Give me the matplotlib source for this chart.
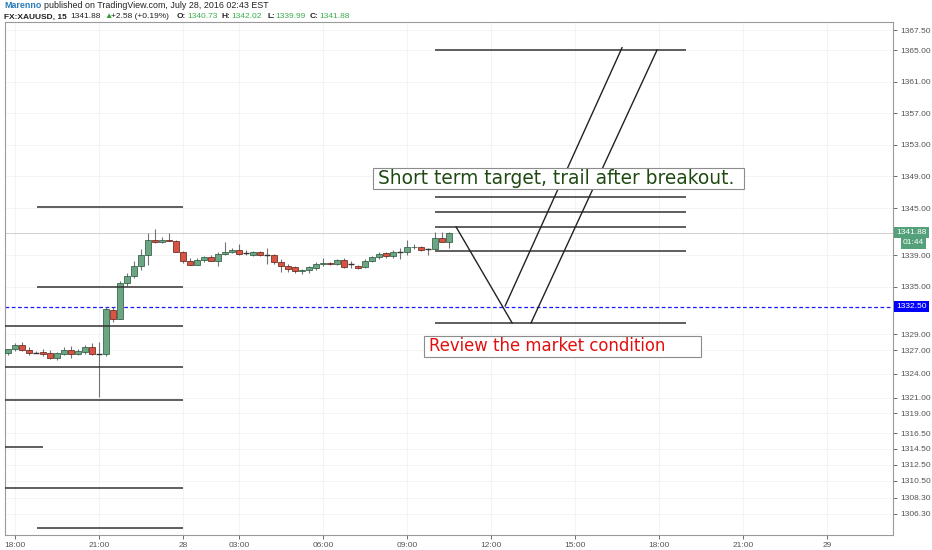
import matplotlib
matplotlib.use("Agg")
import matplotlib.pyplot as plt
import matplotlib.transforms as mtransforms
from matplotlib.patches import Rectangle
import numpy as np

# 15-minute XAUUSD bars (bar index, open/high/low/close)
bar_start = -1
opens = [1326.6, 1327.1, 1327.7, 1327.0, 1326.7, 1326.8, 1326.6, 1325.95, 1326.55, 1327.05,
         1326.55, 1326.75, 1327.4, 1326.55, 1326.55, 1332.15, 1331.0, 1335.5, 1336.4, 1337.6,
         1339.0, 1341.0, 1340.65, 1340.95, 1340.85, 1339.4, 1338.3, 1337.8, 1338.4, 1338.8,
         1338.35, 1339.2, 1339.4, 1339.65, 1339.25, 1339.1, 1339.45, 1339.05, 1339.05, 1338.15,
         1337.7, 1337.5, 1337.05, 1337.15, 1337.4, 1337.85, 1338.05, 1337.9, 1338.45, 1337.85,
         1337.6, 1337.5, 1338.3, 1338.75, 1339.3, 1338.95, 1339.4, 1339.4, 1340.0, 1340.05,
         1339.75, 1339.8, 1341.2, 1340.73]
highs = [1327.2, 1327.9, 1328.0, 1327.35, 1326.9, 1327.1, 1327.05, 1326.8, 1327.4, 1327.5,
         1327.2, 1327.6, 1327.9, 1328.0, 1332.5, 1332.5, 1335.8, 1336.8, 1338.35, 1339.8,
         1341.8, 1342.3, 1341.3, 1341.8, 1341.0, 1339.5, 1338.65, 1338.65, 1338.9, 1339.0,
         1339.4, 1340.7, 1339.9, 1340.4, 1339.7, 1339.6, 1339.6, 1339.9, 1339.2, 1338.5,
         1337.9, 1337.6, 1337.3, 1337.7, 1338.2, 1338.7, 1338.2, 1338.6, 1338.7, 1338.3,
         1337.8, 1338.55, 1338.9, 1339.4, 1339.4, 1339.7, 1339.9, 1341.0, 1340.4, 1340.15,
         1339.9, 1342.0, 1342.0, 1342.02]
lows = [1326.4, 1326.9, 1326.9, 1326.4, 1326.6, 1326.3, 1325.9, 1325.8, 1326.4, 1326.0,
        1326.4, 1326.5, 1326.4, 1321.1, 1326.3, 1330.6, 1331.0, 1335.1, 1336.15, 1337.2,
        1337.8, 1340.55, 1340.6, 1340.8, 1339.4, 1338.1, 1337.75, 1337.75, 1338.2, 1338.3,
        1337.6, 1339.0, 1339.3, 1339.1, 1339.1, 1338.9, 1338.9, 1337.9, 1337.9, 1336.9,
        1336.9, 1336.8, 1336.65, 1336.8, 1337.1, 1337.7, 1337.75, 1337.75, 1337.4, 1337.4,
        1337.3, 1337.35, 1338.2, 1338.6, 1338.7, 1338.7, 1338.55, 1339.1, 1339.8, 1339.6,
        1339.1, 1339.8, 1340.65, 1339.99]
closes = [1327.1, 1327.7, 1327.05, 1326.7, 1326.75, 1326.55, 1325.95, 1326.6, 1327.05, 1326.55,
          1326.95, 1327.4, 1326.55, 1326.6, 1332.2, 1331.0, 1335.5, 1336.4, 1337.6, 1339.0,
          1340.95, 1340.65, 1340.9, 1340.8, 1339.4, 1338.25, 1337.8, 1338.45, 1338.75, 1338.35,
          1339.2, 1339.4, 1339.65, 1339.2, 1339.2, 1339.4, 1339.05, 1339.1, 1338.15, 1337.6,
          1337.3, 1337.05, 1337.15, 1337.5, 1337.9, 1338.05, 1337.85, 1338.45, 1337.55, 1337.8,
          1337.4, 1338.3, 1338.75, 1339.2, 1338.9, 1339.4, 1339.45, 1340.0, 1340.1, 1339.7,
          1339.8, 1341.2, 1340.75, 1341.88]

last_price = 1341.88
alert_price = 1332.50

# axis ticks
x_tick_pos = [0, 12, 24, 32, 44, 56, 68, 80, 92, 104, 116]
x_tick_labels = ["18:00", "21:00", "28", "03:00", "06:00", "09:00", "12:00", "15:00", "18:00", "21:00", "29"]
y_tick_vals = [1367.50, 1365.00, 1361.00, 1357.00, 1353.00, 1349.00, 1345.00, 1339.00, 1335.00,
               1329.00, 1327.00, 1324.00, 1321.00, 1319.00, 1316.50, 1314.50, 1312.50, 1310.50,
               1308.30, 1306.30]

# drawn horizontal levels: (price, x start, x end)
h_levels = [(1345.1, 3.1, 24), (1335.0, 3.1, 24), (1330.1, -1.5, 24), (1324.9, -1.5, 24),
            (1320.7, -1.5, 24), (1314.75, -1.5, 4), (1309.6, -1.5, 24), (1304.5, 3.1, 24),
            (1365.0, 60, 95.9), (1346.4, 60, 95.9), (1344.5, 60, 95.9), (1342.6, 60, 95.9),
            (1339.6, 60, 95.9), (1330.45, 60, 95.9)]
# drawn trend lines: (x0, y0, x1, y1)
trend_lines = [(63, 1342.6, 71, 1330.45), (70, 1332.6, 86.7, 1365.3), (73.7, 1330.45, 91.7, 1365.0)]

# text notes: text, colour, font size, box (x0, x1, y0, y1)
notes = [("Short term target, trail after breakout.", "#1e4a12", 13.4, (51.1, 104.1, 1347.4, 1350.06)),
         ("Review the market condition", "#e01010", 11.9, (58.4, 98.0, 1326.14, 1328.8))]

up_fill, up_edge = "#6ba583", "#225437"
dn_fill, dn_edge = "#d75442", "#5b1a13"
wick_col = "#737375"

fig = plt.figure(figsize=(9.32, 5.5), dpi=100)
ax = fig.add_axes([5 / 932, 15 / 550, 888 / 932, 513 / 550])

xs = np.arange(bar_start, bar_start + len(opens))
o = np.array(opens)
h = np.array(highs)
l = np.array(lows)
c = np.array(closes)

ax.vlines(xs, l, h, color=wick_col, linewidth=0.8, zorder=3)
for xi, oi, ci in zip(xs, o, c):
    if abs(ci - oi) < 0.08:
        ax.hlines(oi, xi - 0.38, xi + 0.38, color="#333333", linewidth=1.0, zorder=4)
        continue
    up = ci > oi
    ax.bar(xi, abs(ci - oi), bottom=min(oi, ci), width=0.76,
           color=up_fill if up else dn_fill, edgecolor=up_edge if up else dn_edge,
           linewidth=0.5, zorder=4)

# drawings
for price, x0, x1 in h_levels:
    ax.hlines(price, x0, x1, color="#333333", linewidth=1.1, zorder=5)
for x0, y0, x1, y1 in trend_lines:
    ax.plot([x0, x1], [y0, y1], color="#222222", linewidth=1.0, zorder=5)

ax.axhline(last_price, color="#d0d0d0", linewidth=0.7, zorder=2)
ax.axhline(alert_price, color="#1a1aff", linewidth=0.9, linestyle=(0, (3, 2)), zorder=2)

for txt, col, fs, (bx0, bx1, by0, by1) in notes:
    ax.add_patch(Rectangle((bx0, by0), bx1 - bx0, by1 - by0, fc="white", ec="#8c8c8c",
                           lw=0.8, zorder=6))
    ax.text(bx0 + 0.7, (by0 + by1) / 2, txt, fontsize=fs, color=col, va="center",
            ha="left", zorder=7)

ax.set_xlim(-1.43, 125.4)
ax.set_ylim(1303.6, 1368.55)
ax.set_xticks(x_tick_pos)
ax.set_xticklabels(x_tick_labels, family="Liberation Sans")
ax.set_yticks(y_tick_vals)
ax.set_yticklabels(["%.2f" % v for v in y_tick_vals], family="Liberation Sans")
ax.yaxis.tick_right()
ax.tick_params(axis="both", labelsize=6, colors="#555555", length=3, width=0.6, pad=2)
ax.grid(True, color="#f2f2f2", linewidth=0.6, zorder=0)
for side in ["left", "right", "top", "bottom"]:
    ax.spines[side].set_color("#9a9a9a")
    ax.spines[side].set_linewidth(0.8)

# price tags on the axis
tr = mtransforms.blended_transform_factory(ax.transAxes, ax.transData)
tag = dict(transform=tr, fontsize=6, color="white", va="center", ha="left", zorder=7,
           family="Liberation Sans")
ax.text(1.004, last_price, "%.2f" % last_price,
        bbox=dict(boxstyle="square,pad=0.25", fc="#53a07a", ec="none"), **tag)
ax.text(1.011, last_price - 1.3, "01:44",
        bbox=dict(boxstyle="square,pad=0.25", fc="#53a07a", ec="none"), **tag)
ax.text(1.004, alert_price, "%.2f" % alert_price,
        bbox=dict(boxstyle="square,pad=0.25", fc="#0000ff", ec="none"), **tag)

# header
def head(xpix, ypix, s, color="#222222", weight="normal", size=6.4):
    fig.text(xpix / 932, 1 - ypix / 550, s, color=color, fontsize=size, fontweight=weight,
             va="center", ha="left", family="Liberation Sans")

head(4, 6, "Marenno", color="#2a7ab8", weight="bold")
head(44, 6, "published on TradingView.com, July 28, 2016 02:43 EST")
head(4, 17, "FX:XAUUSD, 15", weight="bold", size=6)
head(70, 17, "1341.88", size=6)
head(104, 17, "\u25b2", color="#2ca02c", size=6)
head(111, 17, "+2.58 (+0.19%)", size=6)
head(177, 17, "O:", weight="bold", size=6)
head(187, 17, "1340.73", color="#3cae4e", size=6)
head(222, 17, "H:", weight="bold", size=6)
head(231, 17, "1342.02", color="#3cae4e", size=6)
head(267, 17, "L:", weight="bold", size=6)
head(275, 17, "1339.99", color="#3cae4e", size=6)
head(310, 17, "C:", weight="bold", size=6)
head(319, 17, "1341.88", color="#3cae4e", size=6)

fig.savefig("out.png", dpi=100)
